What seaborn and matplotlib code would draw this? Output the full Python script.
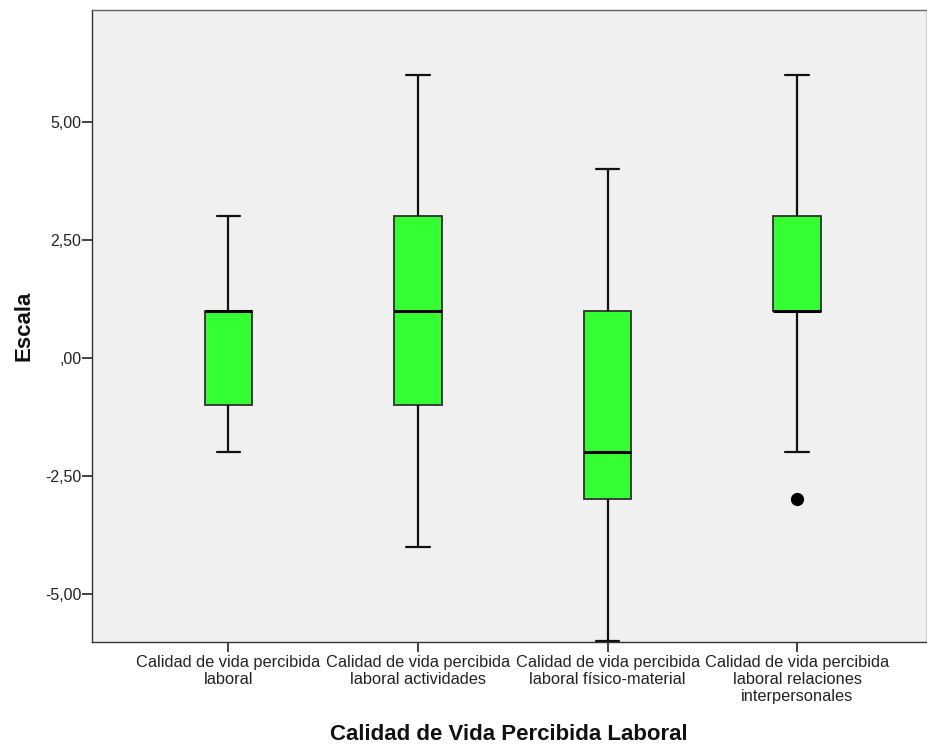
import numpy as np
import pandas as pd
import matplotlib
matplotlib.use("Agg")
import matplotlib.pyplot as plt
import seaborn as sns

# Dimension labels (wrapped as shown on the axis)
categories = [
    "Calidad de vida percibida\nlaboral",
    "Calidad de vida percibida\nlaboral actividades",
    "Calidad de vida percibida\nlaboral físico-material",
    "Calidad de vida percibida\nlaboral relaciones\ninterpersonales",
]

# Scale scores per dimension
general = [-2, -1, -1, 0, 1, 1, 1, 2, 3]
actividades = [-4, -2, -1, 0, 1, 2, 3, 5, 6]
fisico_material = [-6, -4, -3, -2, -2, 0, 1, 3, 4]
relaciones = [-3, -2, 1, 1, 1, 2, 3, 5, 6]

y_ticks = [-5.0, -2.5, 0.0, 2.5, 5.0]
y_tick_labels = ["-5,00", "-2,50", ",00", "2,50", "5,00"]

series = [general, actividades, fisico_material, relaciones]
df = pd.DataFrame({
    "dimension": np.repeat(categories, [len(s) for s in series]),
    "escala": np.concatenate(series),
})

sns.set_theme(style="white")
plt.rcParams["font.family"] = ["Liberation Sans", "DejaVu Sans"]

fig = plt.figure(figsize=(9.27, 7.44), dpi=100)
ax = fig.add_axes([92 / 927, 102 / 744, 834 / 927, 632 / 744])
ax.set_facecolor("#f0f0f0")

edge = "#303030"
sns.boxplot(
    data=df, x="dimension", y="escala", order=categories,
    color="#33ff33", saturation=1, width=0.25, whis=1.5,
    linecolor=edge, linewidth=1.3, fliersize=8,
    boxprops=dict(edgecolor=edge, linewidth=1.3),
    whiskerprops=dict(color="#111111", linewidth=1.6),
    capprops=dict(color="#111111", linewidth=1.6),
    medianprops=dict(color="black", linewidth=2.2),
    flierprops=dict(marker="o", markerfacecolor="black",
                    markeredgecolor="black", markersize=8.5),
    ax=ax,
)

ax.set_xlim(-0.72, 3.68)
ax.set_ylim(-6.02, 7.37)
ax.set_yticks(y_ticks)
ax.set_yticklabels(y_tick_labels)

for side in ["top", "right", "left", "bottom"]:
    ax.spines[side].set_visible(True)
    ax.spines[side].set_color("#333333")
    ax.spines[side].set_linewidth(1.0)
ax.spines["top"].set_color("#666666")
ax.spines["right"].set_color("#d0d0d0")

ax.tick_params(axis="y", which="major", direction="out", length=7, width=1.3,
               color="#333333", labelsize=11.5, labelcolor="#222222", pad=0.5, left=True)
ax.tick_params(axis="x", which="major", direction="out", length=7, width=1.3,
               color="#333333", labelsize=11.8, labelcolor="#222222", pad=2, bottom=True)
for lbl in ax.get_xticklabels():
    lbl.set_linespacing(1.2)

ax.set_ylabel("Escala", fontsize=16, fontweight="bold", color="#111111")
ax.set_xlabel("Calidad de Vida Percibida Laboral", fontsize=16, fontweight="bold",
              color="#111111")
ax.xaxis.set_label_coords(0.5, -0.13)
ax.yaxis.set_label_coords(-0.069, 0.5)

fig.savefig("out.png", dpi=100, facecolor="white")
